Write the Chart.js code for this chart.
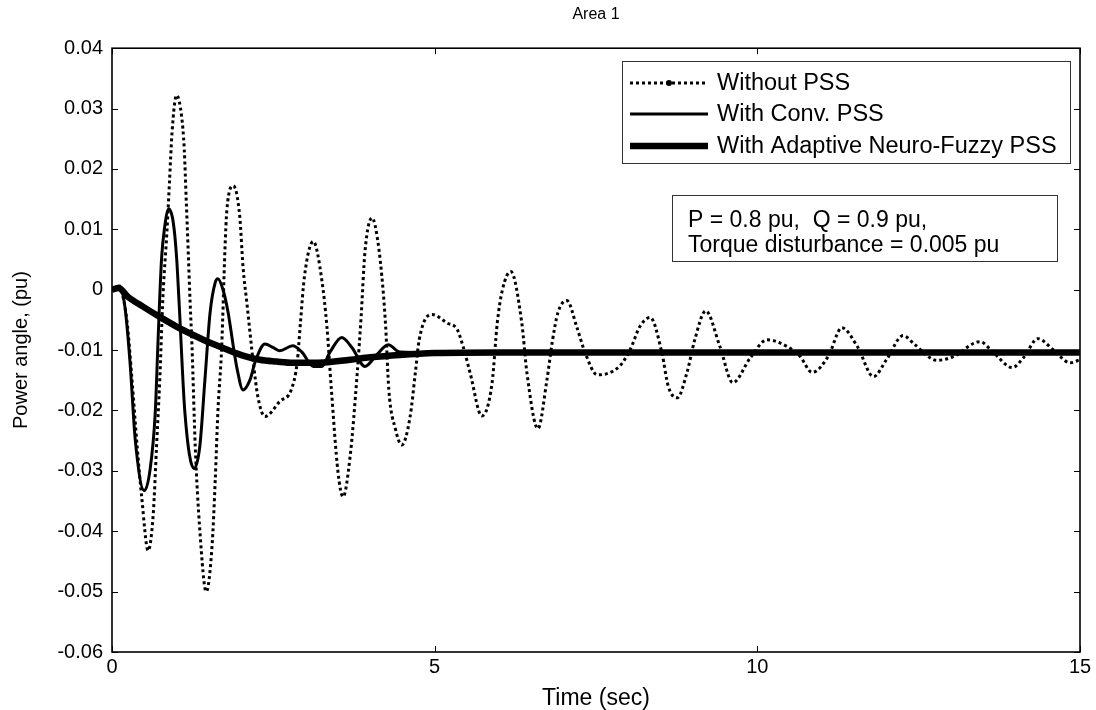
<!DOCTYPE html>
<html><head><meta charset="utf-8">
<script src="https://cdn.jsdelivr.net/npm/chart.js@4.4.1/dist/chart.umd.min.js"></script>
<style>html,body{margin:0;padding:0;background:#fff;overflow:hidden}</style>
</head><body>
<canvas id="c" width="1096" height="710"></canvas>
<script>
// ---- data ----
const chartTitle = 'Area 1';
const xTitle = 'Time (sec)';
const yTitle = 'Power angle, (pu)';
const seriesNames = ['Without PSS', 'With Conv. PSS', 'With Adaptive Neuro-Fuzzy PSS'];
const noteLines = ['P = 0.8 pu,  Q = 0.9 pu,', 'Torque disturbance = 0.005 pu'];
const xTicks = [0, 5, 10, 15];
const yMin = -0.06, yMax = 0.04, yStep = 0.01;

const tWithout = [0,0.1,0.23,0.31,0.39,0.46,0.56,0.64,0.69,0.74,0.79,0.85,0.89,0.93,1.0,1.08,1.12,1.15,1.18,1.21,1.24,1.29,1.36,1.46,1.55,1.6,1.64,1.7,1.75,1.78,1.88,1.98,2.03,2.09,2.19,2.26,2.37,2.6,2.78,2.87,2.92,2.98,3.12,3.25,3.33,3.4,3.5,3.58,3.69,3.8,3.86,3.92,4.03,4.12,4.2,4.24,4.29,4.39,4.49,4.62,4.7,4.76,4.96,5.19,5.35,5.44,5.55,5.73,5.89,5.97,6.05,6.18,6.35,6.43,6.6,6.74,6.82,6.91,7.05,7.2,7.33,7.52,7.87,8.03,8.18,8.34,8.52,8.62,8.76,8.91,9.03,9.2,9.42,9.62,9.89,10.15,10.46,10.66,10.85,11.1,11.31,11.55,11.8,12.0,12.26,12.44,12.78,13.03,13.45,13.65,13.95,14.12,14.35,14.58,14.85,15.0];
const vWithout = [0,0.0005,-0.005,-0.0149,-0.026,-0.0343,-0.0432,-0.037,-0.026,-0.0149,-0.001,0.0094,0.0177,0.026,0.0322,0.0286,0.0232,0.0149,0.0066,-0.002,-0.0094,-0.026,-0.0397,-0.05,-0.0425,-0.0315,-0.0204,-0.0094,0.0066,0.0132,0.0172,0.0121,0.0038,-0.0022,-0.0121,-0.0177,-0.021,-0.0185,-0.0165,-0.012,-0.0055,0.002,0.008,0.0017,-0.0061,-0.0166,-0.03,-0.0343,-0.0276,-0.0138,-0.0045,0.0063,0.0119,0.008,0.0,-0.006,-0.0166,-0.023,-0.0257,-0.021,-0.0138,-0.0083,-0.0041,-0.0055,-0.0066,-0.0094,-0.0138,-0.0209,-0.0154,-0.0055,0.0,0.003,-0.0055,-0.0138,-0.023,-0.0149,-0.0088,-0.0038,-0.0018,-0.0061,-0.0104,-0.0141,-0.0126,-0.0099,-0.0061,-0.0046,-0.0104,-0.016,-0.0179,-0.0137,-0.0083,-0.0035,-0.0094,-0.0154,-0.0113,-0.0083,-0.0094,-0.011,-0.0137,-0.011,-0.0063,-0.0094,-0.0144,-0.0116,-0.0076,-0.0091,-0.0117,-0.0111,-0.0086,-0.0103,-0.0129,-0.0113,-0.0081,-0.0099,-0.0121,-0.0116];

const tConv = [0,0.12,0.2,0.28,0.36,0.5,0.59,0.67,0.71,0.74,0.77,0.81,0.88,0.95,1.0,1.04,1.13,1.27,1.36,1.44,1.52,1.6,1.64,1.72,1.8,1.88,1.94,2.03,2.14,2.22,2.37,2.5,2.6,2.8,2.94,3.12,3.25,3.38,3.56,3.72,3.92,4.1,4.28,4.46,5.0,15.0];
const vConv = [0,0.0006,-0.0028,-0.0121,-0.0248,-0.0333,-0.0298,-0.0204,-0.0094,-0.0012,0.0055,0.0099,0.0134,0.0111,0.0055,-0.0022,-0.0204,-0.0296,-0.026,-0.0149,-0.0038,0.0012,0.0018,0.0,-0.0038,-0.0094,-0.0132,-0.0166,-0.0149,-0.0119,-0.009,-0.0096,-0.0101,-0.0093,-0.0103,-0.0127,-0.0127,-0.0103,-0.0079,-0.0096,-0.0127,-0.0108,-0.0091,-0.0103,-0.0104,-0.0104];

const tAnf = [0,0.1,0.25,0.48,0.74,1.0,1.26,1.52,1.78,2.03,2.29,2.55,2.8,3.2,3.69,4.0,4.46,5.0,6.0,15.0];
const vAnf = [0,0.0003,-0.0012,-0.0028,-0.0045,-0.0061,-0.0075,-0.0088,-0.0099,-0.0109,-0.0116,-0.0119,-0.0121,-0.0121,-0.0116,-0.0112,-0.0108,-0.0105,-0.0104,-0.0104];

// ---- build ----
const pts = (t, v) => t.map((x, i) => ({x, y: v[i]}));
const FONT = "'Liberation Sans', Arial, sans-serif";

const framePlugin = {
  id: 'frame',
  afterDatasetsDraw(chart) {
    const {ctx, chartArea: a, scales: {x, y}} = chart;
    ctx.save();
    ctx.strokeStyle = '#000';
    ctx.lineWidth = 1;
    const L = 6;
    ctx.beginPath();
    x.ticks.forEach(t => {
      const px = Math.round(x.getPixelForValue(t.value)) + 0.5;
      ctx.moveTo(px, a.bottom); ctx.lineTo(px, a.bottom - L);
      ctx.moveTo(px, a.top); ctx.lineTo(px, a.top + L);
    });
    y.ticks.forEach(t => {
      const py = Math.round(y.getPixelForValue(t.value)) + 0.5;
      ctx.moveTo(a.left, py); ctx.lineTo(a.left + L, py);
      ctx.moveTo(a.right, py); ctx.lineTo(a.right - L, py);
    });
    ctx.stroke();
    ctx.lineWidth = 1.6;
    ctx.strokeRect(a.left, a.top, a.right - a.left, a.bottom - a.top);

    // legend box
    const lx0 = 622, ly0 = 61, lx1 = 1070, ly1 = 163;
    ctx.fillStyle = '#fff';
    ctx.fillRect(lx0, ly0, lx1 - lx0, ly1 - ly0);
    ctx.lineWidth = 1;
    ctx.strokeStyle = '#333';
    ctx.strokeRect(lx0 + 0.5, ly0 + 0.5, lx1 - lx0, ly1 - ly0);
    const rows = [83, 114, 146];
    const ds = chart.data.datasets;
    rows.forEach((ry, i) => {
      const d = ds[i];
      ctx.strokeStyle = '#000';
      ctx.lineWidth = d.borderWidth;
      ctx.setLineDash(d.borderDash || []);
      ctx.beginPath(); ctx.moveTo(630, ry); ctx.lineTo(708, ry); ctx.stroke();
      ctx.setLineDash([]);
      if (i === 0) {
        ctx.fillStyle = '#000';
        ctx.beginPath(); ctx.arc(669, ry, 3, 0, Math.PI * 2); ctx.fill();
      }
      ctx.fillStyle = '#000';
      ctx.font = '23.5px ' + FONT;
      ctx.textBaseline = 'middle';
      ctx.textAlign = 'left';
      ctx.fillText(d.label, 717, ry + 1);
    });

    // annotation box
    const ax0 = 672, ay0 = 195, ax1 = 1057, ay1 = 261;
    ctx.fillStyle = '#fff';
    ctx.fillRect(ax0, ay0, ax1 - ax0, ay1 - ay0);
    ctx.strokeStyle = '#333';
    ctx.lineWidth = 1;
    ctx.strokeRect(ax0 + 0.5, ay0 + 0.5, ax1 - ax0, ay1 - ay0);
    ctx.fillStyle = '#000';
    ctx.font = '23px ' + FONT;
    ctx.fillText(noteLines[0], 688, 221);
    ctx.fillText(noteLines[1], 688, 246);
    ctx.restore();
  }
};

new Chart(document.getElementById('c'), {
  type: 'line',
  data: {
    datasets: [
      {label: seriesNames[0], data: pts(tWithout, vWithout), borderColor: '#000', borderWidth: 3, borderDash: [3, 3], pointRadius: 0, cubicInterpolationMode: 'monotone', order: 2},
      {label: seriesNames[1], data: pts(tConv, vConv), borderColor: '#000', borderWidth: 3, pointRadius: 0, cubicInterpolationMode: 'monotone', order: 1},
      {label: seriesNames[2], data: pts(tAnf, vAnf), borderColor: '#000', borderWidth: 6.5, pointRadius: 0, cubicInterpolationMode: 'monotone', order: 0}
    ]
  },
  options: {
    responsive: false,
    animation: false,
    devicePixelRatio: 1,
    layout: {padding: {left: 0, right: 16, top: 0, bottom: 0}},
    plugins: {
      legend: {display: false},
      tooltip: {enabled: false},
      title: {display: true, text: chartTitle, color: '#000', fullSize: false,
        font: {family: FONT, size: 16, weight: 'normal', lineHeight: 1.2}, padding: {top: 5, bottom: 24}}
    },
    scales: {
      x: {
        type: 'linear', min: 0, max: 15,
        afterBuildTicks: s => { s.ticks = xTicks.map(v => ({value: v})); },
        afterFit: s => { s.height = 58; },
        grid: {display: false, drawTicks: false, tickLength: 0}, border: {display: false},
        ticks: {color: '#000', padding: 3, maxRotation: 0, font: {family: FONT, size: 20}},
        title: {display: true, text: xTitle, color: '#000', padding: {top: 0, bottom: 0}, font: {family: FONT, size: 23, lineHeight: 1}}
      },
      y: {
        type: 'linear', min: yMin, max: yMax,
        ticks: {stepSize: yStep, color: '#000', padding: 9, font: {family: FONT, size: 20},
          callback: v => { const r = Math.round(v * 100) / 100; return r === 0 ? '0' : String(r); }},
        afterFit: s => { s.width = 112; },
        grid: {display: false, drawTicks: false, tickLength: 0}, border: {display: false},
        title: {display: true, text: yTitle, color: '#000', padding: {top: 9, bottom: 0}, font: {family: FONT, size: 20, lineHeight: 1.2}}
      }
    }
  },
  plugins: [framePlugin]
});
</script>
</body></html>
